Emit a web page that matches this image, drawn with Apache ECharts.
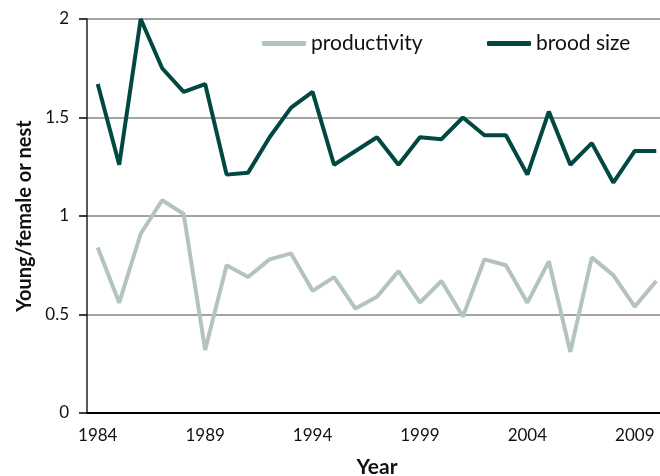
<!DOCTYPE html>
<html>
<head>
<meta charset="utf-8">
<script src="https://cdn.jsdelivr.net/npm/echarts@6/dist/echarts.min.js"></script>
<style>
  html, body { margin: 0; padding: 0; background: #fff; }
  #chart { width: 660px; height: 476px; }
</style>
</head>
<body>
<div id="chart"></div>
<script>
// years on the x axis
const years = ['1984','1985','1986','1987','1988','1989','1990','1991','1992','1993',
  '1994','1995','1996','1997','1998','1999','2000','2001','2002','2003',
  '2004','2005','2006','2007','2008','2009','2010']
// young per female
const productivity = [0.84, 0.56, 0.91, 1.08, 1.01, 0.32, 0.75, 0.69, 0.78, 0.81,
  0.62, 0.69, 0.53, 0.59, 0.72, 0.56, 0.67, 0.49, 0.78, 0.75,
  0.56, 0.77, 0.31, 0.79, 0.70, 0.54, 0.67]
// young per nest
const broodSize = [1.67, 1.26, 2.0, 1.75, 1.63, 1.67, 1.21, 1.22, 1.40, 1.55,
  1.63, 1.26, 1.33, 1.40, 1.26, 1.40, 1.39, 1.50, 1.41, 1.41,
  1.21, 1.53, 1.26, 1.37, 1.17, 1.33, 1.33]

const font = 'Lato'
let chart = echarts.init(document.getElementById('chart'))
chart.setOption({
  animation: false,
  // plot runs past the right edge of the picture, as in the original
  grid: { left: 87, width: 580, top: 19, bottom: 63, outerBoundsMode: 'none', containLabel: false },
  legend: [{
      left: 262, top: 33, padding: 0,
      icon: 'roundRect', itemWidth: 44, itemHeight: 5,
      textStyle: { fontFamily: font, fontSize: 21, color: '#111' },
      data: ['productivity']
    }, {
      left: 487, top: 33, padding: 0,
      icon: 'roundRect', itemWidth: 44, itemHeight: 5,
      textStyle: { fontFamily: font, fontSize: 21, color: '#111' },
      data: ['brood size']
    }
  ],
  xAxis: {
    type: 'category',
    data: years,
    boundaryGap: true,
    name: 'Year',
    nameLocation: 'middle',
    nameGap: 44,
    nameTextStyle: { fontFamily: font, fontSize: 21, fontWeight: 'bold', color: '#111' },
    axisLine: { lineStyle: { color: '#000', width: 2 } },
    axisTick: { interval: 0, length: 6, lineStyle: { color: '#000', width: 1.2 } },
    axisLabel: { interval: 4, margin: 14, fontFamily: font, fontSize: 17, color: '#111' }
  },
  yAxis: {
    type: 'value',
    min: 0, max: 2, interval: 0.5,
    name: 'Young/female or nest',
    nameLocation: 'middle',
    nameGap: 48,
    nameTextStyle: { fontFamily: font, fontSize: 20, fontWeight: 'bold', color: '#111' },
    axisLine: { show: true, lineStyle: { color: '#222', width: 1.5 } },
    axisTick: { show: true, length: 8, lineStyle: { color: '#000', width: 1.5 } },
    axisLabel: { margin: 18, fontFamily: font, fontSize: 17, color: '#111' },
    splitLine: { lineStyle: { color: '#858585', width: 1.5 } }
  },
  series: [{
      name: 'productivity',
      type: 'line',
      data: productivity,
      symbol: 'none',
      color: '#b3c3c1',
      lineStyle: { width: 4, color: '#b3c3c1' }
    }, {
      name: 'brood size',
      type: 'line',
      data: broodSize,
      symbol: 'none',
      color: '#024842',
      lineStyle: { width: 4, color: '#024842' }
    }
  ]
})
</script>
</body>
</html>
